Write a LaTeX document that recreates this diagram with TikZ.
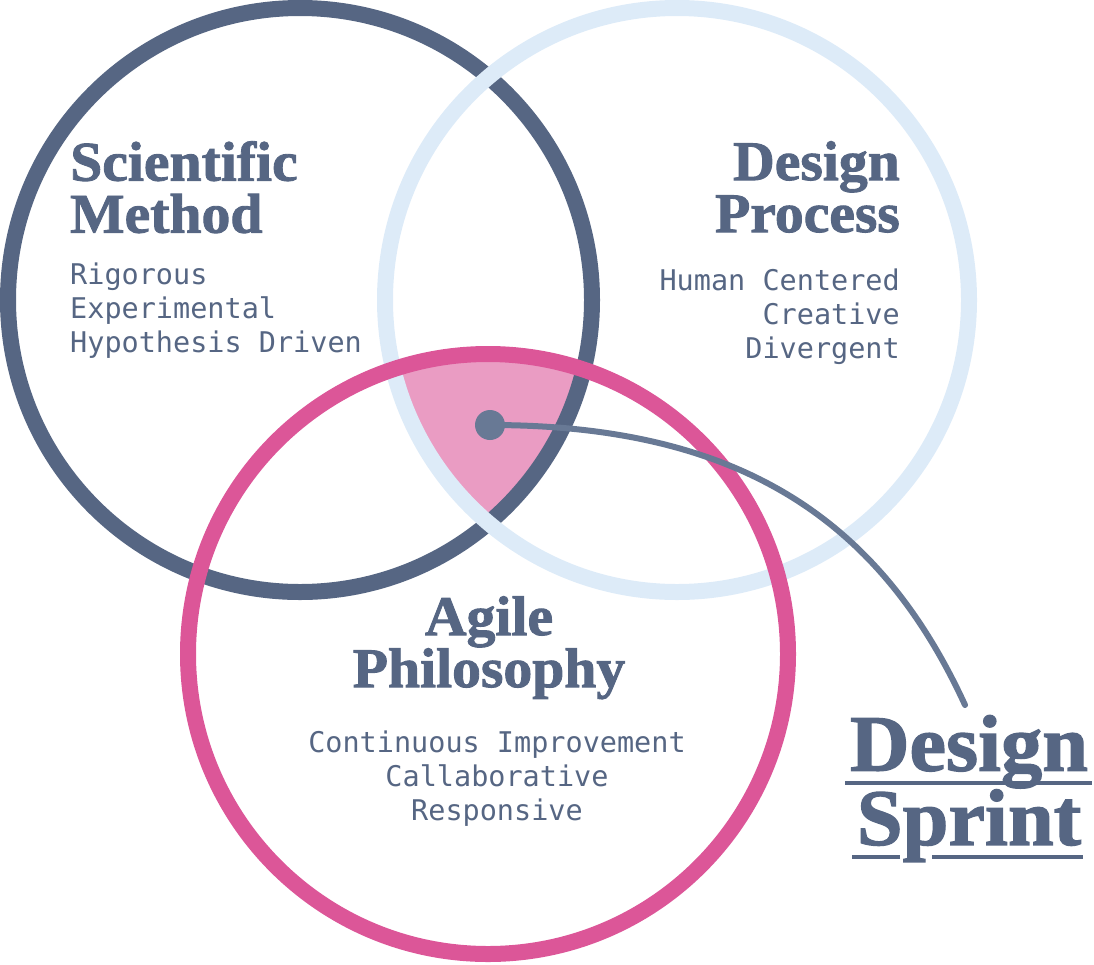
\documentclass[tikz,border=0pt]{standalone}
\usepackage{fontspec}
\setmainfont{Liberation Serif}
\newfontfamily\displayfont[FakeBold=1.6, FakeStretch=1.03]{Liberation Serif Bold}
\newfontfamily\listfont{DejaVu Sans Mono}
\usetikzlibrary{positioning}
\definecolor{slate}{HTML}{566683}
\definecolor{skyring}{HTML}{DDEBF8}
\definecolor{rosering}{HTML}{DC5698}
\definecolor{rosefill}{HTML}{EA9CC3}
\definecolor{pinline}{HTML}{687995}

\begin{document}
\begin{tikzpicture}[
      x=1pt, y=-1pt,
      ring/.style={line width=16pt},
      heading/.style={font=\displayfont\fontsize{56}{52}\selectfont, text=slate,
                      inner sep=0pt, align=#1},
      traits/.style={font=\listfont\fontsize{28.5}{34}\selectfont, text=slate,
                     inner sep=0pt, align=#1},
    ]
    \useasboundingbox (0,0) rectangle (1094,964);

    % shared core of the three circles
    \begin{scope}
      \clip (300,300) circle[radius=292pt];
      \clip (677,300) circle[radius=292pt];
      \fill[rosefill] (488,654) circle[radius=300pt];
    \end{scope}

    \draw[ring, slate] (300,300) circle[radius=292pt];
    \draw[ring, skyring] (677,300) circle[radius=292pt];
    \draw[ring, rosering] (488,654) circle[radius=300pt];

    \node[heading=left, anchor=north west] (sci) at (70,141) {Scientific\\Method};
    \node[traits=left, below=29pt of sci.south west, anchor=north west] (scilist)
      {Rigorous\\Experimental\\Hypothesis Driven};

    \node[heading=right, anchor=north east] (dsgn) at (900,141) {Design\\Process};
    \node[traits=right, below=36pt of dsgn.south east, anchor=north east] (dsgnlist)
      {Human Centered\\Creative\\Divergent};

    \node[heading=center, anchor=north] (agile) at (489,596) {Agile\\Philosophy};
    \node[traits=center, below=31pt of agile, xshift=8pt] (agilelist)
      {Continuous Improvement\\Callaborative\\Responsive};

    \node[font=\displayfont\fontsize{80}{72}\selectfont, text=slate, inner sep=0pt,
          align=center, anchor=north] (sprint) at (969,715) {Design\\Sprint};
    \draw[slate, line width=4pt] (845,783) -- (1092,783);
    \draw[slate, line width=4pt] (852,857) -- (900,857) (932,857) -- (1083,857);

    \node[circle, fill=pinline, minimum size=30pt, inner sep=0pt] (hub) at (490,425) {};
    \coordinate (tail) at (965,705);
    \draw[pinline, line width=6pt, line cap=round]
      (hub.center) .. controls (740,425) and (880,520) .. (tail);
  \end{tikzpicture}
\end{document}
